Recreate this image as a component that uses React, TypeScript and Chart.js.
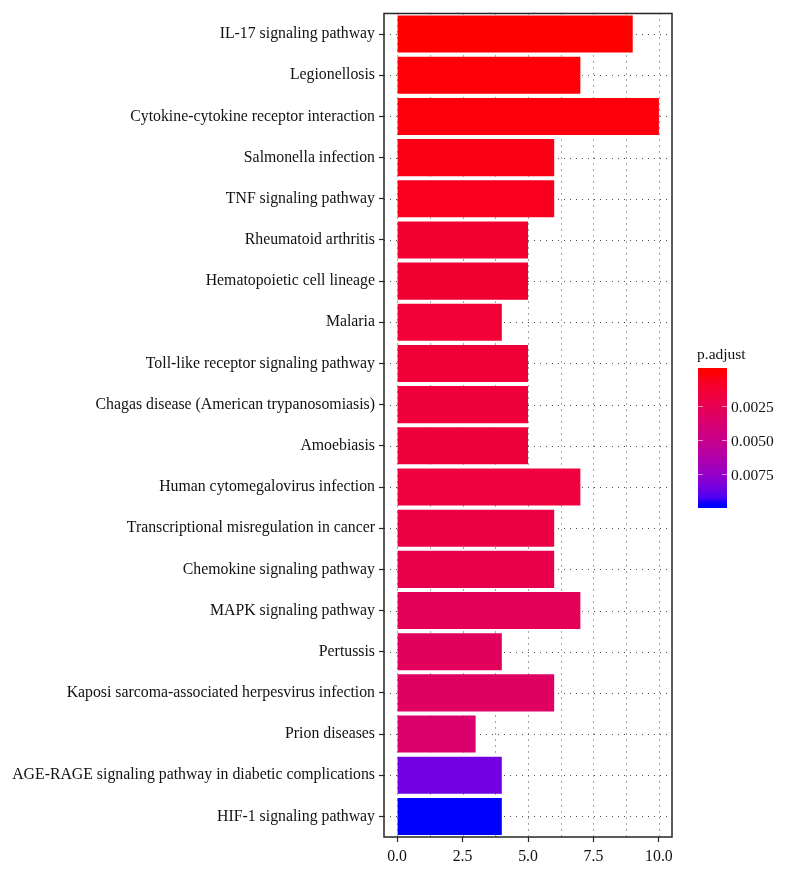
import React, { useEffect, useRef } from "react";
import { Chart, registerables } from "chart.js";

Chart.register(...registerables);

// ---------- data ----------
const categories = [
  "IL-17 signaling pathway",
  "Legionellosis",
  "Cytokine-cytokine receptor interaction",
  "Salmonella infection",
  "TNF signaling pathway",
  "Rheumatoid arthritis",
  "Hematopoietic cell lineage",
  "Malaria",
  "Toll-like receptor signaling pathway",
  "Chagas disease (American trypanosomiasis)",
  "Amoebiasis",
  "Human cytomegalovirus infection",
  "Transcriptional misregulation in cancer",
  "Chemokine signaling pathway",
  "MAPK signaling pathway",
  "Pertussis",
  "Kaposi sarcoma-associated herpesvirus infection",
  "Prion diseases",
  "AGE-RAGE signaling pathway in diabetic complications",
  "HIF-1 signaling pathway",
];

const geneCounts = [9, 7, 10, 6, 6, 5, 5, 4, 5, 5, 5, 7, 6, 6, 7, 4, 6, 3, 4, 4];

const pAdjust = [
  0.00001, 0.0001, 0.0002, 0.0004, 0.0006, 0.0012, 0.0013, 0.0014, 0.0015, 0.0016,
  0.0016, 0.0017, 0.0019, 0.0023, 0.0028, 0.003, 0.0032, 0.0036, 0.0085, 0.0097,
];

const xTickValues = [0, 2.5, 5, 7.5, 10];
const legendTickValues = [0.0025, 0.005, 0.0075];
const legendTitle = "p.adjust";

const lowColor = [255, 0, 0];
const highColor = [0, 0, 255];

const FONT = "'Liberation Serif', 'Times New Roman', serif";
const TEXT_COLOR = "#111111";
const LABEL_SIZE = 15.8;

// ---------- colour helpers (Lab interpolation like ggplot2) ----------
const Xn = 0.95047, Yn = 1.0, Zn = 1.08883;
const toLin = (c: number) => {
  c /= 255;
  return c <= 0.04045 ? c / 12.92 : Math.pow((c + 0.055) / 1.055, 2.4);
};
const fromLin = (c: number) => {
  const v = c <= 0.0031308 ? 12.92 * c : 1.055 * Math.pow(Math.max(c, 0), 1 / 2.4) - 0.055;
  return Math.round(Math.max(0, Math.min(1, v)) * 255);
};
const fLab = (t: number) => (t > 0.008856 ? Math.cbrt(t) : 7.787 * t + 16 / 116);
const fInv = (t: number) => (t > 0.206893 ? t * t * t : (t - 16 / 116) / 7.787);

function rgbToLab(rgb: number[]) {
  const R = toLin(rgb[0]), G = toLin(rgb[1]), B = toLin(rgb[2]);
  const X = 0.4124 * R + 0.3576 * G + 0.1805 * B;
  const Y = 0.2126 * R + 0.7152 * G + 0.0722 * B;
  const Z = 0.0193 * R + 0.1192 * G + 0.9505 * B;
  const fx = fLab(X / Xn), fy = fLab(Y / Yn), fz = fLab(Z / Zn);
  return [116 * fy - 16, 500 * (fx - fy), 200 * (fy - fz)];
}
function labToRgb(lab: number[]) {
  const fy = (lab[0] + 16) / 116;
  const fx = fy + lab[1] / 500;
  const fz = fy - lab[2] / 200;
  const X = Xn * fInv(fx), Y = Yn * fInv(fy), Z = Zn * fInv(fz);
  const R = 3.2406 * X - 1.5372 * Y - 0.4986 * Z;
  const G = -0.9689 * X + 1.8758 * Y + 0.0415 * Z;
  const B = 0.0557 * X - 0.204 * Y + 1.057 * Z;
  return [fromLin(R), fromLin(G), fromLin(B)];
}
const labLow = rgbToLab(lowColor);
const labHigh = rgbToLab(highColor);
const pMin = Math.min(...pAdjust);
const pMax = Math.max(...pAdjust);
function colorAt(t: number) {
  const tt = Math.max(0, Math.min(1, t));
  const lab = labLow.map((v, i) => v + (labHigh[i] - v) * tt);
  const [r, g, b] = labToRgb(lab);
  return `rgb(${r},${g},${b})`;
}
const colorForP = (p: number) => colorAt((p - pMin) / (pMax - pMin));

// ---------- plugins ----------
const gridPlugin = {
  id: "dottedGrid",
  beforeDatasetsDraw(chart: any) {
    const { ctx, chartArea, scales } = chart;
    const xs = scales.x;
    const ys = scales.y;
    ctx.save();
    ctx.beginPath();
    ctx.rect(chartArea.left, chartArea.top, chartArea.right - chartArea.left, chartArea.bottom - chartArea.top);
    ctx.clip();
    ctx.strokeStyle = "#4d4d4d";
    ctx.lineWidth = 1;
    ctx.setLineDash([1, 5]);
    const majors = xTickValues;
    const minors: number[] = [];
    for (let i = 0; i < majors.length - 1; i++) minors.push((majors[i] + majors[i + 1]) / 2);
    [...majors, ...minors].forEach((v) => {
      const x = Math.round(xs.getPixelForValue(v)) + 0.5;
      ctx.beginPath();
      ctx.moveTo(x, chartArea.top);
      ctx.lineTo(x, chartArea.bottom);
      ctx.stroke();
    });
    categories.forEach((_, i) => {
      const y = Math.round(ys.getPixelForValue(i)) + 0.5;
      ctx.beginPath();
      ctx.moveTo(chartArea.left, y);
      ctx.lineTo(chartArea.right, y);
      ctx.stroke();
    });
    ctx.restore();
  },
  afterDatasetsDraw(chart: any) {
    const { ctx, chartArea } = chart;
    ctx.save();
    ctx.strokeStyle = "#262626";
    ctx.lineWidth = 1.5;
    ctx.strokeRect(chartArea.left, chartArea.top, chartArea.right - chartArea.left, chartArea.bottom - chartArea.top);
    ctx.restore();
  },
};

const colorbarPlugin = {
  id: "colorbar",
  afterDraw(chart: any) {
    const { ctx } = chart;
    const x0 = 698, y0 = 368, w = 29, h = 140;
    const nbin = 20;
    const inset = h / nbin / 2;
    ctx.save();
    // title
    ctx.fillStyle = TEXT_COLOR;
    ctx.font = `15.5px ${FONT}`;
    ctx.textAlign = "left";
    ctx.textBaseline = "middle";
    ctx.fillText(legendTitle, 697, 355);
    // bar
    const grad = ctx.createLinearGradient(0, y0, 0, y0 + h);
    for (let i = 0; i < nbin; i++) {
      grad.addColorStop((i + 0.5) / nbin, colorAt(i / (nbin - 1)));
    }
    grad.addColorStop(0, colorAt(0));
    grad.addColorStop(1, colorAt(1));
    ctx.fillStyle = grad;
    ctx.fillRect(x0, y0, w, h);
    // ticks + labels
    legendTickValues.forEach((v) => {
      const y = Math.round(y0 + inset + ((v - pMin) / (pMax - pMin)) * (h - 2 * inset)) + 0.5;
      ctx.strokeStyle = "rgba(255,255,255,0.55)";
      ctx.lineWidth = 1;
      ctx.beginPath();
      ctx.moveTo(x0, y);
      ctx.lineTo(x0 + 5, y);
      ctx.moveTo(x0 + w - 5, y);
      ctx.lineTo(x0 + w, y);
      ctx.stroke();
      ctx.fillStyle = TEXT_COLOR;
      ctx.font = `15.5px ${FONT}`;
      ctx.textAlign = "left";
      ctx.textBaseline = "middle";
      ctx.fillText(v.toFixed(4), x0 + w + 4, y + 1.5);
    });
    ctx.restore();
  },
};

export default function App() {
  const canvasRef = useRef<HTMLCanvasElement | null>(null);

  useEffect(() => {
    document.body.style.margin = "0";
    const canvas = canvasRef.current;
    if (!canvas) return;
    const chart = new Chart(canvas, {
      type: "bar",
      data: {
        labels: categories,
        datasets: [
          {
            label: "Count",
            data: geneCounts,
            backgroundColor: pAdjust.map(colorForP),
            borderWidth: 0,
            categoryPercentage: 0.9,
            barPercentage: 1.0,
          },
        ],
      },
      options: {
        indexAxis: "y",
        responsive: false,
        animation: false,
        layout: { padding: { top: 11, right: 113, bottom: 0, left: 0 } },
        plugins: {
          legend: { display: false },
          tooltip: { enabled: false },
        },
        scales: {
          x: {
            type: "linear",
            min: -0.5,
            max: 10.5,
            afterBuildTicks: (scale: any) => {
              scale.ticks = xTickValues.map((v) => ({ value: v }));
            },
            afterFit: (scale: any) => {
              scale.height = 34;
            },
            border: { display: false },
            grid: {
              drawOnChartArea: false,
              drawTicks: true,
              tickLength: 5,
              tickColor: "#262626",
              tickWidth: 1.2,
            },
            ticks: {
              autoSkip: false,
              maxRotation: 0,
              padding: 5,
              color: TEXT_COLOR,
              font: { family: FONT, size: LABEL_SIZE },
              callback: (v: any) => Number(v).toFixed(1),
            },
          },
          y: {
            type: "category",
            offset: true,
            afterFit: (scale: any) => {
              scale.width = 384;
            },
            border: { display: false },
            grid: {
              offset: false,
              drawOnChartArea: false,
              drawTicks: true,
              tickLength: 5,
              tickColor: "#262626",
              tickWidth: 1.2,
            },
            ticks: {
              autoSkip: false,
              padding: 4,
              color: TEXT_COLOR,
              font: { family: FONT, size: LABEL_SIZE },
            },
          },
        },
      },
      plugins: [gridPlugin, colorbarPlugin],
    });
    return () => chart.destroy();
  }, []);

  return <canvas ref={canvasRef} width={785} height={871} style={{ display: "block" }} />;
}
